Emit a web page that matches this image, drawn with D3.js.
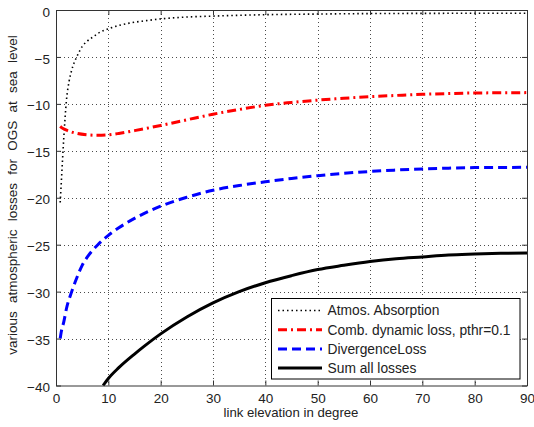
<!DOCTYPE html>
<html>
<head>
<meta charset="utf-8">
<script src="https://cdn.jsdelivr.net/npm/d3@7"></script>
<style>
  body { margin: 0; background: #fff; }
  svg { display: block; font-family: "Liberation Sans", Arial, sans-serif; }
</style>
</head>
<body>
<svg id="chart" width="534" height="427"></svg>
<script>
  // values
  var xTicks = [0, 10, 20, 30, 40, 50, 60, 70, 80, 90];
  var yTicks = [0, -5, -10, -15, -20, -25, -30, -35, -40];

  var atmosEl   = [0.8, 1, 1.5, 2, 2.5, 3, 4, 5, 6, 7, 8, 10, 12, 14, 17, 20, 25, 30, 40, 50, 60, 70, 80, 90];
  var atmosLoss = [-20.5, -18.5, -13.5, -9.6, -7.6, -6.4, -4.95, -3.9, -3.3, -2.9, -2.5, -2.0, -1.65, -1.4, -1.15, -0.95, -0.75, -0.65, -0.5, -0.43, -0.38, -0.36, -0.35, -0.35];

  var dynEl   = [0.8, 1, 2, 3, 4, 6, 8, 10, 12, 15, 20, 25, 30, 35, 40, 45, 50, 55, 60, 65, 70, 75, 80, 85, 90];
  var dynLoss = [-12.4, -12.5, -12.8, -13.0, -13.15, -13.3, -13.35, -13.3, -13.15, -12.85, -12.3, -11.7, -11.1, -10.6, -10.15, -9.85, -9.6, -9.4, -9.23, -9.1, -8.98, -8.9, -8.84, -8.82, -8.8];

  var divEl   = [0.8, 1, 1.5, 2, 3, 4, 5, 6, 7, 8, 10, 12, 15, 20, 25, 30, 35, 40, 45, 50, 55, 60, 65, 70, 75, 80, 85, 90];
  var divLoss = [-35, -34.3, -33.2, -31.8, -30, -28.5, -27.2, -26.3, -25.6, -25.0, -24.0, -23.2, -22.2, -20.9, -19.95, -19.2, -18.7, -18.3, -17.95, -17.65, -17.4, -17.2, -17.05, -16.93, -16.85, -16.79, -16.77, -16.76];

  var sumEl   = [9.0, 10, 12, 15, 17, 20, 25, 30, 35, 40, 45, 50, 55, 60, 65, 70, 75, 80, 85, 90];
  var sumLoss = [-40, -39.25, -38.1, -36.65, -35.75, -34.5, -32.7, -31.2, -30.0, -29.05, -28.3, -27.65, -27.2, -26.8, -26.5, -26.3, -26.1, -26.0, -25.92, -25.88];

  var seriesNames = ["Atmos. Absorption", "Comb. dynamic loss, pthr=0.1", "DivergenceLoss", "Sum all losses"];

  var svg = d3.select("#chart");
  var pLeft = 56, pRight = 527, pTop = 10, pBottom = 385.5;

  var x = d3.scaleLinear().domain([0, 90]).range([pLeft, pRight]);
  var y = d3.scaleLinear().domain([-40, 0]).range([pBottom, pTop]);

  var axisColor = "#333";

  // grid
  var grid = svg.append("g").attr("stroke", "#000").attr("stroke-width", 1)
    .attr("stroke-dasharray", "1,3").attr("opacity", 0.7);
  grid.selectAll("line.vx").data(xTicks.slice(1, -1)).enter().append("line")
    .attr("x1", function (d) { return Math.round(x(d)) + 0.5; })
    .attr("x2", function (d) { return Math.round(x(d)) + 0.5; })
    .attr("y1", pTop).attr("y2", pBottom);
  grid.selectAll("line.hy").data(yTicks.slice(1, -1)).enter().append("line")
    .attr("y1", function (d) { return Math.round(y(d)) + 0.5; })
    .attr("y2", function (d) { return Math.round(y(d)) + 0.5; })
    .attr("x1", pLeft).attr("x2", pRight);

  // curves
  function makeLine(xs, ys) {
    return d3.line()
      .x(function (d, i) { return x(xs[i]); })
      .y(function (d, i) { return y(ys[i]); })
      .curve(d3.curveMonotoneX)(ys);
  }

  var styles = [
    { color: "#000", width: 1.6, dash: "1.5,3" },
    { color: "#ff0000", width: 3, dash: "9,4,2,4" },
    { color: "#0000ff", width: 3, dash: "9,5" },
    { color: "#000", width: 3, dash: null }
  ];

  var curves = [[atmosEl, atmosLoss], [dynEl, dynLoss], [divEl, divLoss], [sumEl, sumLoss]];

  var plot = svg.append("g");
  curves.forEach(function (c, i) {
    plot.append("path")
      .attr("d", makeLine(c[0], c[1]))
      .attr("fill", "none")
      .attr("stroke", styles[i].color)
      .attr("stroke-width", styles[i].width)
      .attr("stroke-dasharray", styles[i].dash);
  });

  // frame and ticks
  var xAxisB = d3.axisBottom(x).tickValues(xTicks).tickSizeInner(-5).tickSizeOuter(0).tickPadding(8);
  var xAxisT = d3.axisTop(x).tickValues(xTicks).tickSizeInner(-5).tickSizeOuter(0).tickFormat("");
  var yAxisL = d3.axisLeft(y).tickValues(yTicks).tickSizeInner(-5).tickSizeOuter(0).tickPadding(6);
  var yAxisR = d3.axisRight(y).tickValues(yTicks).tickSizeInner(-5).tickSizeOuter(0).tickFormat("");

  function styleAxis(g) {
    g.selectAll("path").attr("stroke", axisColor);
    g.selectAll("line").attr("stroke", axisColor);
    g.selectAll("text").attr("fill", "#222").style("font-size", "13.5px")
      .style("font-family", "Liberation Sans, Arial, sans-serif");
  }

  svg.append("g").attr("transform", "translate(0," + pBottom + ")").call(xAxisB).call(styleAxis);
  svg.append("g").attr("transform", "translate(0," + pTop + ")").call(xAxisT).call(styleAxis);
  svg.append("g").attr("transform", "translate(" + pLeft + ",0)").call(yAxisL).call(styleAxis)
    .selectAll("text").attr("dy", "0.45em");
  svg.append("g").attr("transform", "translate(" + pRight + ",0)").call(yAxisR).call(styleAxis);

  // axis labels
  svg.append("text")
    .attr("x", 291).attr("y", 417)
    .attr("text-anchor", "middle").attr("fill", "#222").style("font-size", "13.2px")
    .text("link elevation in degree");

  svg.append("text")
    .attr("transform", "translate(17,195) rotate(-90)")
    .attr("text-anchor", "middle").attr("fill", "#222").style("font-size", "13.5px")
    .attr("word-spacing", "4.5px")
    .text("various atmospheric losses for OGS at sea level");

  // legend
  var lg = svg.append("g");
  lg.append("rect")
    .attr("x", 271.5).attr("y", 298.5).attr("width", 248.5).attr("height", 80.5)
    .attr("fill", "#fff").attr("stroke", "#000").attr("stroke-width", 1);

  seriesNames.forEach(function (name, i) {
    var ly = 310.5 + i * 19.2;
    lg.append("line")
      .attr("x1", 278).attr("x2", 322).attr("y1", ly).attr("y2", ly)
      .attr("stroke", styles[i].color)
      .attr("stroke-width", styles[i].width)
      .attr("stroke-dasharray", styles[i].dash);
    lg.append("text")
      .attr("x", 327.5).attr("y", ly + 4.8)
      .attr("fill", "#222").style("font-size", "13.8px")
      .text(name);
  });
</script>
</body>
</html>
